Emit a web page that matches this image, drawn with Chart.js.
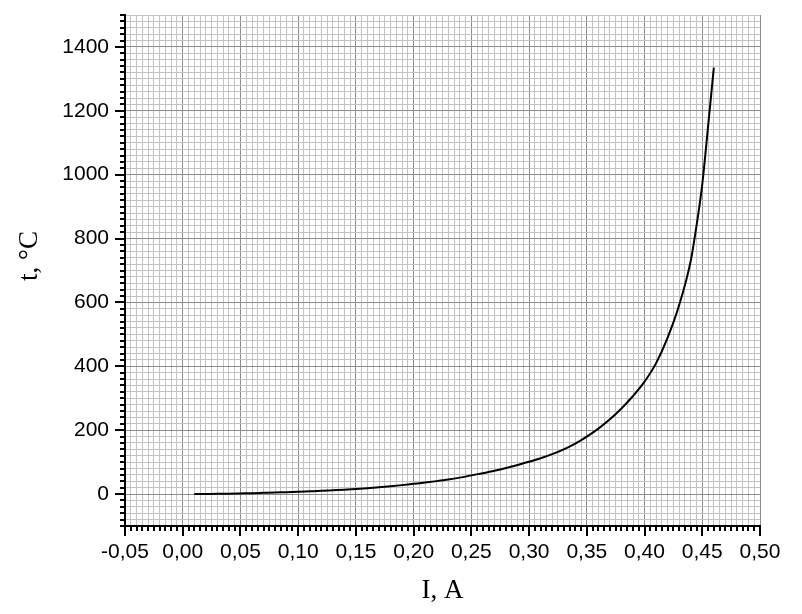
<!DOCTYPE html>
<html>
<head>
<meta charset="utf-8">
<script src="https://cdn.jsdelivr.net/npm/chart.js@4/dist/chart.umd.min.js"></script>
<style>
  html, body { margin: 0; padding: 0; background: #ffffff; }
  #wrap { width: 802px; height: 614px; position: relative; }
</style>
</head>
<body>
<div id="wrap"><canvas id="c" width="802" height="614"></canvas></div>
<script>
// Current, A
const currents = [0.01, 0.02, 0.03, 0.04, 0.05, 0.06, 0.07, 0.08, 0.09, 0.10,
  0.11, 0.12, 0.13, 0.14, 0.15, 0.16, 0.17, 0.18, 0.19, 0.20,
  0.21, 0.22, 0.23, 0.24, 0.25, 0.26, 0.27, 0.28, 0.29, 0.30,
  0.31, 0.32, 0.33, 0.34, 0.35, 0.36, 0.37, 0.38, 0.39, 0.40,
  0.41, 0.42, 0.43, 0.44, 0.445, 0.45, 0.455, 0.46];
// Temperature, °C
const temperatures = [0, 0.3, 0.6, 1.2, 2, 2.8, 3.8, 4.8, 6, 7,
  8.5, 10, 11.8, 13.6, 15.5, 18, 21, 24.3, 28, 32,
  36, 40.5, 45.5, 51.5, 58.5, 65.5, 73, 81.5, 91, 101,
  112, 125, 140, 158, 180, 205, 234, 268, 307, 352,
  410, 490, 592, 730, 840, 970, 1150, 1335];

const xMin = -0.05, xMax = 0.50, xMinorStep = 0.005, xMajorStep = 0.05;
const yMin = -100, yMax = 1500, yMinorStep = 20, yMajorStep = 200;
const xTitle = 'I, A';
const yTitle = 't, °C';

function isMajor(v, step) {
  const r = v / step;
  return Math.abs(r - Math.round(r)) < 1e-6;
}

const MAJOR_GRID = '#8c8c8c';
const MINOR_GRID = '#c4c4c4';

const tickMarks = {
  id: 'tickMarks',
  afterDraw(chart) {
    const ctx = chart.ctx;
    const xs = chart.scales.x, ys = chart.scales.y;
    ctx.save();
    ctx.strokeStyle = '#000';
    ctx.lineWidth = 2;
    ctx.beginPath();
    xs.ticks.forEach(t => {
      const px = Math.round(xs.getPixelForValue(t.value));
      const len = isMajor(t.value, xMajorStep) ? 10 : 5;
      ctx.moveTo(px, xs.top);
      ctx.lineTo(px, xs.top + len);
    });
    ys.ticks.forEach(t => {
      const py = Math.round(ys.getPixelForValue(t.value));
      const len = isMajor(t.value, yMajorStep) ? 10 : 5;
      ctx.moveTo(ys.right, py);
      ctx.lineTo(ys.right - len, py);
    });
    ctx.stroke();
    // y-axis title (placed slightly above the axis centre, as in the reference)
    ctx.fillStyle = '#000';
    ctx.font = '27px "Liberation Serif"';
    ctx.textAlign = 'center';
    ctx.textBaseline = 'middle';
    ctx.translate(ys.left + 30, 256);
    ctx.rotate(-Math.PI / 2);
    ctx.fillText(yTitle, 0, 0);
    ctx.restore();
  }
};

new Chart(document.getElementById('c'), {
  type: 'scatter',
  data: {
    datasets: [{
      data: currents.map((x, i) => ({x: x, y: temperatures[i]})),
      showLine: true,
      borderColor: '#000000',
      borderWidth: 2,
      pointRadius: 0,
      pointHoverRadius: 0,
      cubicInterpolationMode: 'monotone',
      fill: false
    }]
  },
  options: {
    responsive: false,
    animation: false,
    events: [],
    layout: { padding: { top: 15, right: 42, left: 0, bottom: 0 } },
    plugins: { legend: { display: false }, tooltip: { enabled: false } },
    scales: {
      x: {
        type: 'linear',
        min: xMin, max: xMax,
        afterFit(scale) { scale.height = 88; scale.paddingLeft = 0; scale.paddingRight = 0; },
        border: { display: true, color: '#000', width: 2 },
        grid: {
          drawTicks: true,
          tickLength: 10,
          tickColor: 'rgba(0,0,0,0)',
          color: ctx => isMajor(ctx.tick.value, xMajorStep) ? MAJOR_GRID : MINOR_GRID,
          lineWidth: 1
        },
        ticks: {
          stepSize: xMinorStep,
          autoSkip: false,
          maxRotation: 0,
          minRotation: 0,
          padding: 4,
          color: '#000',
          font: { family: 'Liberation Sans', size: 21 },
          callback: v => isMajor(v, xMajorStep) ? (Math.abs(v) < 1e-9 ? 0 : v).toFixed(2).replace('.', ',') : ''
        },
        title: {
          display: true,
          text: xTitle,
          color: '#000',
          font: { family: 'Liberation Serif', size: 27 },
          padding: { top: 0, bottom: 7 }
        }
      },
      y: {
        type: 'linear',
        min: yMin, max: yMax,
        afterFit(scale) { scale.width = 125; scale.paddingTop = 0; scale.paddingBottom = 0; },
        border: { display: true, color: '#000', width: 2 },
        grid: {
          drawTicks: true,
          tickLength: 10,
          tickColor: 'rgba(0,0,0,0)',
          color: ctx => isMajor(ctx.tick.value, yMajorStep) ? MAJOR_GRID : MINOR_GRID,
          lineWidth: 1
        },
        ticks: {
          stepSize: yMinorStep,
          autoSkip: false,
          padding: 6,
          color: '#000',
          font: { family: 'Liberation Sans', size: 21 },
          callback: v => isMajor(v, yMajorStep) ? String(v) : ''
        },
        title: { display: false }
      }
    }
  },
  plugins: [tickMarks]
});
</script>
</body>
</html>
